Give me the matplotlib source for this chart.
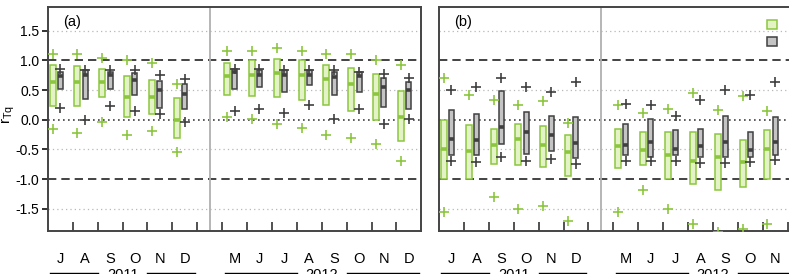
import numpy as np
import matplotlib
matplotlib.use("Agg")
import matplotlib.pyplot as plt
from matplotlib.patches import Patch

plt.rcParams['font.family'] = ['Liberation Sans', 'DejaVu Sans']

# slot positions: 2011 Jul-Dec = 0..5, break at 6, 2012 May-Dec = 7..14
months = ['J', 'A', 'S', 'O', 'N', 'D', 'M', 'J', 'J', 'A', 'S', 'O', 'N', 'D']
month_pos = [0, 1, 2, 3, 4, 5, 7, 8, 9, 10, 11, 12, 13, 14]
years = [('2011', 0, 5), ('2012', 7, 14)]
break_pos = 6

# panel (a): box top / bottom / median / upper + / lower +
a_g_top = [0.93, 0.90, 0.85, 0.73, 0.67, 0.36, 0.955, 1.00, 1.02, 1.00, 0.92, 0.87, 0.77, 0.48]
a_g_bot = [0.24, 0.23, 0.375, 0.045, 0.09, -0.31, 0.42, 0.40, 0.38, 0.34, 0.25, 0.14, 0.0, -0.35]
a_g_med = [0.64, 0.64, 0.64, 0.39, 0.375, -0.01, 0.73, 0.75, 0.79, 0.76, 0.69, 0.60, 0.435, 0.04]
a_g_hi = [1.10, 1.10, 1.04, 1.01, 0.955, 0.61, 1.16, 1.16, 1.21, 1.16, 1.10, 1.10, 1.00, 0.93]
a_g_lo = [-0.15, -0.22, -0.04, -0.25, -0.19, -0.55, 0.04, 0.01, -0.07, -0.14, -0.25, -0.30, -0.41, -0.69]

a_k_top = [0.80, 0.84, 0.80, 0.78, 0.66, 0.60, 0.86, 0.83, 0.83, 0.83, 0.80, 0.81, 0.71, 0.63]
a_k_bot = [0.51, 0.35, 0.51, 0.41, 0.20, 0.18, 0.52, 0.56, 0.46, 0.59, 0.41, 0.46, 0.21, 0.18]
a_k_med = [0.74, 0.76, 0.76, 0.67, 0.50, 0.44, 0.80, 0.76, 0.75, 0.76, 0.72, 0.73, 0.56, 0.50]
a_k_hi = [0.85, 0.83, 0.83, 0.84, 0.755, 0.69, 0.86, 0.85, 0.83, 0.83, 0.84, 0.80, 0.77, 0.71]
a_k_lo = [0.20, 0.0, 0.24, 0.15, 0.09, -0.03, 0.15, 0.18, 0.11, 0.25, 0.01, 0.18, -0.07, 0.01]

# panel (b): 2012 Dec is off the picture
b_g_top = [0.0, -0.09, -0.15, -0.08, -0.10, -0.26, -0.16, -0.20, -0.21, -0.20, -0.24, -0.34, -0.17]
b_g_bot = [-1.0, -1.0, -0.75, -0.76, -0.80, -0.94, -0.82, -0.77, -1.0, -1.09, -1.19, -1.14, -1.0]
b_g_med = [-0.49, -0.52, -0.42, -0.33, -0.42, -0.55, -0.45, -0.51, -0.60, -0.70, -0.63, -0.72, -0.49]
b_g_hi = [0.71, 0.42, 0.34, 0.25, 0.31, -0.06, 0.25, 0.11, 0.18, 0.45, 0.16, 0.40, 0.15]
b_g_lo = [-1.56, np.nan, -1.31, -1.51, -1.45, -1.71, -1.55, -1.18, -1.50, -1.76, -1.90, -1.84, -1.76]

b_k_top = [0.16, 0.10, 0.48, 0.13, 0.07, 0.04, -0.08, 0.02, -0.18, -0.16, 0.07, -0.20, 0.05]
b_k_bot = [-0.59, -0.59, -0.41, -0.57, -0.53, -0.64, -0.59, -0.62, -0.60, -0.63, -0.62, -0.63, -0.59]
b_k_med = [-0.33, -0.34, -0.12, -0.20, -0.25, -0.40, -0.43, -0.38, -0.49, -0.44, -0.38, -0.51, -0.38]
b_k_hi = [0.50, 0.55, 0.70, 0.56, 0.47, 0.63, 0.26, 0.25, 0.07, 0.34, 0.50, 0.41, 0.64]
b_k_lo = [-0.69, -0.72, -0.62, -0.69, -0.66, -0.74, -0.69, -0.69, -0.69, -0.73, -0.73, -0.72, -0.68]

yticks = [-1.5, -1.0, -0.5, 0.0, 0.5, 1.0, 1.5]

green = '#8cc63f'
green_fill = '#e4f3c6'
dark = '#404040'
gray_fill = '#c4c4c4'

W, H = 789, 274
fig = plt.figure(figsize=(W / 100, H / 100), dpi=100)

slot = 24.9
ax_top, ax_bot = 7, 231


def add_panel(left_px):
    return fig.add_axes([left_px / W, 1 - ax_bot / H, 15 * slot / W, (ax_bot - ax_top) / H])


def draw_boxes(ax, pos, top, bot, med, hi, lo, fc, ec, mc, w):
    top = np.array(top); bot = np.array(bot)
    ax.bar(pos, top - bot, bottom=bot, width=w, facecolor=fc, edgecolor=ec, linewidth=1.1, zorder=3)
    ax.hlines(med, np.array(pos) - w / 2, np.array(pos) + w / 2, color=mc, lw=2.6, zorder=4)
    ax.plot(pos, hi, '+', color=mc, ms=7, mew=1.2, zorder=4, linestyle='none')
    ax.plot(pos, lo, '+', color=mc, ms=7, mew=1.2, zorder=4, linestyle='none')


def setup(ax, label, show_y):
    ax.set_xlim(-0.5, 14.5)
    ax.set_ylim(-1.875, 1.9)
    for y in [-1.5, -0.5, 0.5, 1.5]:
        ax.axhline(y, color='#b8b8b8', ls=(0, (1, 2.5)), lw=0.9, zorder=1)
    ax.axhline(0, color=dark, ls=(0, (1, 2)), lw=1.2, zorder=1)
    for y in [-1, 1]:
        ax.axhline(y, color='#222222', ls=(0, (5, 3)), lw=1.2, zorder=1)
    ax.axvline(break_pos, color='#b0b0b0', lw=1.3, zorder=1)

    for s in ax.spines.values():
        s.set_color('#444444')
        s.set_linewidth(1.4)

    ax.set_xticks(month_pos)
    ax.set_xticklabels(months, fontsize=10.5)
    ax.tick_params(axis='x', which='major', length=0, pad=15)
    ax.set_xticks(np.arange(0.5, 14, 1), minor=True)
    ax.tick_params(axis='x', which='minor', direction='in', length=6.5, width=1.1, color='#222222')

    if show_y:
        ax.set_yticks(yticks)
        ax.set_yticklabels(['%.1f' % v for v in yticks], fontsize=10)
        ax.tick_params(axis='y', direction='out', length=4, width=1.3, color='#222222', pad=2)
    else:
        ax.set_yticks([])

    ax.text(0.04, 0.965, label, transform=ax.transAxes, fontsize=10.5, va='top', ha='left')

    # year labels under the month names
    tr = ax.get_xaxis_transform()
    for name, a, b in years:
        c = (a + b) / 2
        ax.plot([a - 0.4, c - 1.0], [-0.188, -0.188], color='black', lw=1, transform=tr, clip_on=False)
        ax.plot([c + 1.0, b + 0.4], [-0.188, -0.188], color='black', lw=1, transform=tr, clip_on=False)
        ax.text(c, -0.213, name, transform=tr, ha='center', va='baseline', fontsize=10.5)


ax1 = add_panel(47.8)
setup(ax1, '(a)', True)
ax1.set_ylabel(r'$\mathregular{r_{Tq}}$', fontsize=11)
ax1.yaxis.set_label_coords(-0.082, 0.52)
draw_boxes(ax1, np.array(month_pos) - 0.31, a_g_top, a_g_bot, a_g_med, a_g_hi, a_g_lo,
           green_fill, green, green, 0.24)
draw_boxes(ax1, np.array(month_pos), a_k_top, a_k_bot, a_k_med, a_k_hi, a_k_lo,
           gray_fill, dark, dark, 0.2)

ax2 = add_panel(439)
setup(ax2, '(b)', False)
bpos = np.array(month_pos[:13])
draw_boxes(ax2, bpos - 0.31, b_g_top, b_g_bot, b_g_med, b_g_hi, b_g_lo,
           green_fill, green, green, 0.24)
draw_boxes(ax2, bpos, b_k_top, b_k_bot, b_k_med, b_k_hi, b_k_lo,
           gray_fill, dark, dark, 0.2)

handles = [Patch(facecolor=green_fill, edgecolor=green, lw=1.1),
           Patch(facecolor=gray_fill, edgecolor=dark, lw=1.1)]
fig.legend(handles, ['', ''], loc='upper left', bbox_to_anchor=(767 / W, 1 - 18 / H),
           frameon=False, borderpad=0, borderaxespad=0, handlelength=0.75, handleheight=0.6,
           labelspacing=0.25, fontsize=10, handletextpad=0.3)

fig.savefig('out.png', dpi=100)
